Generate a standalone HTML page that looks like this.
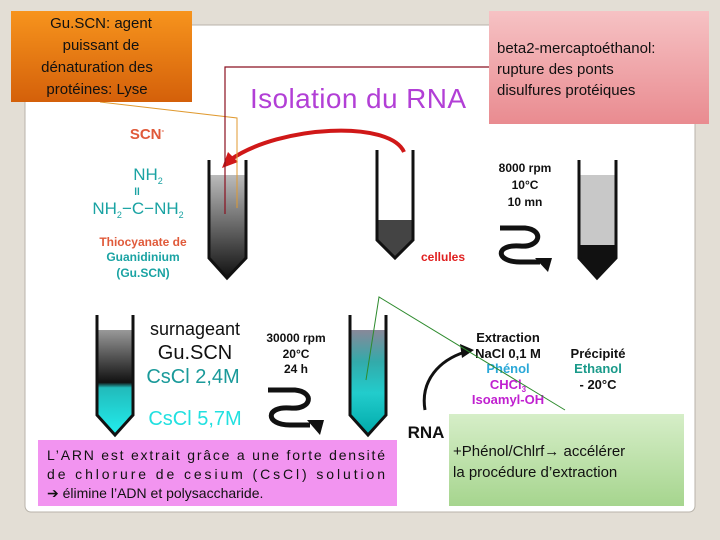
<!DOCTYPE html>
<html><head><meta charset="utf-8"><style>
html,body{margin:0;padding:0;background:#e3ded5;}
svg{display:block}
.c{font-family:"Liberation Sans",sans-serif}
.a{font-family:"Liberation Sans",sans-serif;font-weight:bold}
</style></head><body>
<svg width="720" height="540" viewBox="0 0 720 540" xmlns="http://www.w3.org/2000/svg">
<defs>
<linearGradient id="org" x1="0" y1="0" x2="0" y2="1"><stop offset="0" stop-color="#f7941d"/><stop offset="1" stop-color="#d4600a"/></linearGradient>
<linearGradient id="pnk" x1="0" y1="0" x2="0" y2="1"><stop offset="0" stop-color="#f6c2c4"/><stop offset="1" stop-color="#e98b90"/></linearGradient>
<linearGradient id="grn" x1="0" y1="0" x2="0" y2="1"><stop offset="0" stop-color="#d6eec8"/><stop offset="1" stop-color="#a6d58e"/></linearGradient>
<linearGradient id="t1" x1="0" y1="0" x2="0" y2="1"><stop offset="0" stop-color="#bbb"/><stop offset="1" stop-color="#111"/></linearGradient>
<linearGradient id="t4" x1="0" y1="0" x2="0" y2="1"><stop offset="0" stop-color="#999"/><stop offset="0.5" stop-color="#111"/><stop offset="0.55" stop-color="#2bb"/><stop offset="1" stop-color="#2ee"/></linearGradient>
<linearGradient id="t5" x1="0" y1="0" x2="0" y2="1"><stop offset="0" stop-color="#889"/><stop offset="0.3" stop-color="#3aa"/><stop offset="0.6" stop-color="#2cc"/><stop offset="1" stop-color="#0aa"/></linearGradient>
</defs>
<rect x="25" y="25" width="670" height="487" rx="6" fill="#fff" stroke="#b8b3aa"/>
<text x="250" y="108" class="a" style="font-weight:normal" font-size="28" fill="#b23fd6" textLength="216">Isolation du RNA</text>
<path d="M209,175 L246,175 L246,258 L227,278 L209,258Z" fill="url(#t1)"/>
<path d="M209,160 L209,258 L227,278 L246,258 L246,160" fill="none" stroke="#111" stroke-width="3"/>
<path d="M377,220 L413,220 L413,240 L395,258 L377,240Z" fill="#444"/>
<path d="M377,150 L377,240 L395,258 L413,240 L413,150" fill="none" stroke="#111" stroke-width="3"/>
<path d="M579,175 L616,175 L616,258 L597,278 L579,258Z" fill="#c8c8c8"/>
<path d="M579,245 L616,245 L616,258 L597,278 L579,258Z" fill="#111"/>
<path d="M579,160 L579,258 L597,278 L616,258 L616,160" fill="none" stroke="#111" stroke-width="3"/>
<path d="M97,330 L133,330 L133,415 L115,435 L97,415Z" fill="url(#t4)"/>
<path d="M97,315 L97,415 L115,435 L133,415 L133,315" fill="none" stroke="#111" stroke-width="3"/>
<path d="M350,330 L386,330 L386,415 L368,435 L350,415Z" fill="url(#t5)"/>
<path d="M350,315 L350,415 L368,435 L386,415 L386,315" fill="none" stroke="#111" stroke-width="3"/>
<path d="M404,152 C390,120 280,125 230,160" fill="none" stroke="#d01818" stroke-width="4"/>
<polygon points="222,168 228,152 238,162" fill="#d01818"/>
<g fill="none" stroke="#111" stroke-width="5">
<path d="M500,228 L525,228 C545,230 540,248 520,246 C495,244 495,262 520,262 L540,262"/>
<path d="M268,390 L295,390 C315,392 312,410 290,408 C265,406 265,425 290,425 L310,425"/>
</g>
<polygon points="548,272 535,258 552,258" fill="#111"/>
<polygon points="320,435 307,420 324,420" fill="#111"/>
<path d="M425,410 C420,380 440,360 465,352" fill="none" stroke="#111" stroke-width="3"/>
<polygon points="474,350 460,344 462,358" fill="#111"/>
<g class="a" text-anchor="middle">
<text x="147" y="139" font-size="15" fill="#e05a3a">SCN<tspan font-size="8" dy="-6">-</tspan></text>
<text x="148" y="180" font-size="17" fill="#1aa3a3" style="font-weight:normal">NH<tspan font-size="9" dy="4">2</tspan></text>
<text x="138" y="214" font-size="17" fill="#1aa3a3" style="font-weight:normal">NH<tspan font-size="9" dy="4">2</tspan><tspan dy="-4">−C−NH</tspan><tspan font-size="9" dy="4">2</tspan></text>
<text x="137" y="195" font-size="10" fill="#1aa3a3">ll</text>
<text x="143" y="246" font-size="12" fill="#e05a3a">Thiocyanate de</text>
<text x="143" y="261" font-size="12" fill="#1aa3a3">Guanidinium</text>
<text x="143" y="277" font-size="12" fill="#1aa3a3">(Gu.SCN)</text>
<text x="525" y="172" font-size="12" fill="#111">8000 rpm</text>
<text x="525" y="189" font-size="12" fill="#111">10°C</text>
<text x="525" y="206" font-size="12" fill="#111">10 mn</text>
<text x="443" y="261" font-size="12" fill="#e02020">cellules</text>
<text x="195" y="335" font-size="18" fill="#111" style="font-weight:normal">surnageant</text>
<text x="195" y="359" font-size="20" fill="#111" style="font-weight:normal">Gu.SCN</text>
<text x="193" y="383" font-size="20" fill="#1a9a9a" style="font-weight:normal">CsCl 2,4M</text>
<text x="195" y="425" font-size="20" fill="#22e0e0" style="font-weight:normal">CsCl 5,7M</text>
<text x="296" y="342" font-size="12" fill="#111">30000 rpm</text>
<text x="296" y="358" font-size="12" fill="#111">20°C</text>
<text x="296" y="373" font-size="12" fill="#111">24 h</text>
<text x="426" y="438" font-size="17" fill="#111">RNA</text>
<text x="508" y="342" font-size="13" fill="#111">Extraction</text>
<text x="508" y="358" font-size="13" fill="#111">NaCl 0,1 M</text>
<text x="508" y="373" font-size="13" fill="#2aa8d8">Phénol</text>
<text x="508" y="389" font-size="13" fill="#c020d0">CHCl<tspan font-size="8" dy="3">3</tspan></text>
<text x="508" y="404" font-size="13" fill="#c020d0">Isoamyl-OH</text>
<text x="598" y="358" font-size="13" fill="#111">Précipité</text>
<text x="598" y="373" font-size="13" fill="#1a9a8a">Ethanol</text>
<text x="598" y="389" font-size="13" fill="#111">- 20°C</text>
</g>
<polyline points="100,102 237,118 237,208" fill="none" stroke="#e09a30" stroke-width="1"/>
<polyline points="489,67 225,67 225,214" fill="none" stroke="#8b1020" stroke-width="1.2"/>
<polyline points="366,380 379,297 565,410" fill="none" stroke="#2e8b2e" stroke-width="1"/>
<rect x="11" y="11" width="181" height="91" fill="url(#org)"/>
<g class="c" font-size="15" fill="#111" text-anchor="middle">
<text x="101" y="28">Gu.SCN: agent</text>
<text x="101" y="50">puissant de</text>
<text x="97" y="72">dénaturation des</text>
<text x="97" y="94">protéines: Lyse</text>
</g>
<rect x="489" y="11" width="220" height="113" fill="url(#pnk)"/>
<g class="c" font-size="15" fill="#111">
<text x="497" y="53">beta2-mercaptoéthanol:</text>
<text x="497" y="74">rupture des ponts</text>
<text x="497" y="95">disulfures protéiques</text>
</g>
<rect x="38" y="440" width="359" height="66" fill="#f294f0"/>
<g class="c" font-size="14" fill="#111">
<text x="47" y="460" textLength="338" lengthAdjust="spacing">L’ARN est extrait grâce a une forte densité</text>
<text x="47" y="479" textLength="338" lengthAdjust="spacing">de chlorure de cesium (CsCl) solution</text>
<text x="47" y="498">➔ élimine l’ADN et polysaccharide.</text>
</g>
<rect x="449" y="414" width="235" height="92" fill="url(#grn)"/>
<g class="c" font-size="15" fill="#111">
<text x="453" y="456">+Phénol/Chlrf→ accélérer</text>
<text x="453" y="477">la procédure d’extraction</text>
</g>
</svg>
</body></html>
